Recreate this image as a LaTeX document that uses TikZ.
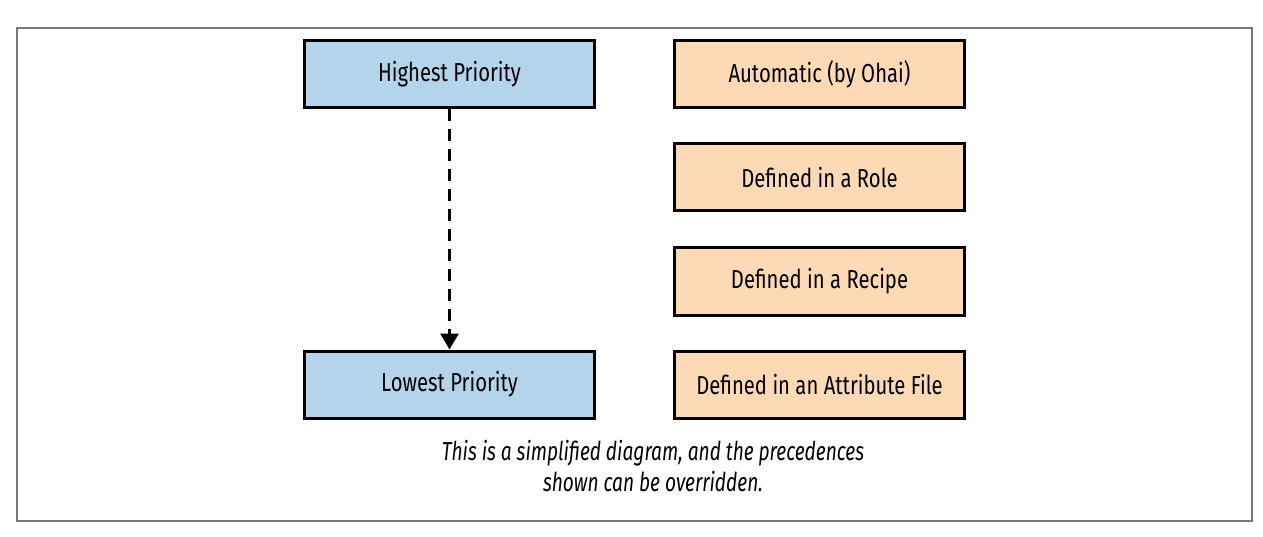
\documentclass[tikz,border=0pt]{standalone}
\usepackage{fontspec}
\setmainfont{Fira Sans}[FakeStretch=0.78]
\newfontfamily\capfont{Fira Sans}[FakeStretch=0.735]
\usetikzlibrary{arrows.meta}
\definecolor{boxblue}{RGB}{179,212,234}
\definecolor{boxorange}{RGB}{253,218,181}
\definecolor{framegray}{RGB}{120,120,120}
\tikzset{
  pbox/.style={draw=black, line width=3pt, minimum width=290pt, minimum height=67pt, inner sep=0pt, font=\fontsize{26}{30}\selectfont},
  hbox/.style={pbox, fill=boxblue},
  obox/.style={pbox, fill=boxorange},
}
\begin{document}
\begin{tikzpicture}[x=1pt,y=-1pt]
\useasboundingbox (0,0) rectangle (1263,537);
\fill[white] (0,0) rectangle (1263,537);
\draw[framegray, line width=2pt] (17,28) rectangle (1252,521);
\node[hbox] (high) at (449.5,74) {Highest Priority};
\node[hbox] (low) at (449.5,384.5) {Lowest Priority};
\node[obox] (auto) at (819.5,74) {Automatic (by Ohai)};
\node[obox] (role) at (819.5,177.5) {Defined in a Role};
\node[obox] (recipe) at (819.5,281.5) {Defined in a Recipe};
\node[obox] (attr) at (819.5,384.5) {Defined in an Attribute File};
\draw[line width=3pt, dash pattern=on 12pt off 8pt, -{Triangle[length=16pt,width=18pt]}] (high.south) -- (low.north);
\node[font=\capfont\fontsize{26}{31}\selectfont\itshape, align=center] (cap) at (653,466) {This is a simplified diagram, and the precedences\\shown can be overridden.};
\end{tikzpicture}
\end{document}
